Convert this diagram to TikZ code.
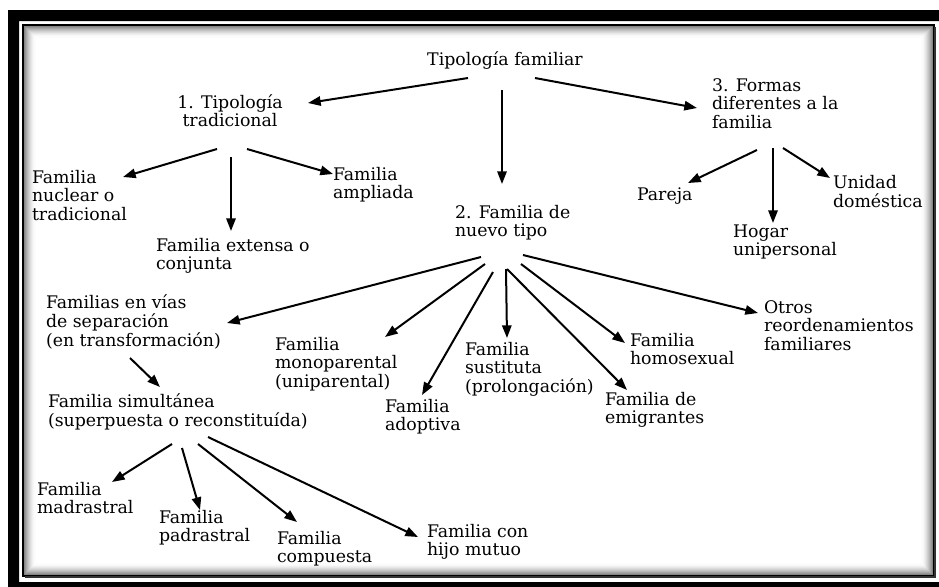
\documentclass[tikz,border=0pt]{standalone}
\usepackage{fontspec}
\setmainfont{DejaVu Serif}
\usetikzlibrary{arrows.meta}
\newcommand\ml[1]{\begin{tabular}[t]{@{}l@{}}#1\end{tabular}}
\newcommand\mc[1]{\begin{tabular}[t]{@{}c@{}}#1\end{tabular}}
\begin{document}
\begin{tikzpicture}[x=0.75pt,y=-0.75pt,
  lbl/.style={inner sep=0pt, outer sep=0pt, anchor=base west, font=\fontsize{13}{13.7}\selectfont},
  clbl/.style={lbl, anchor=base},
  arr/.style={line width=1.5pt, -{Triangle[length=9.5pt,width=7pt]}}]
\useasboundingbox (0,0) rectangle (939,586);
\fill[white] (0,0) rectangle (939,586);
% outer band
\fill[black, even odd rule] (8,10) rectangle (960,600) (19,21) rectangle (939,582);
% inner shadow
\foreach \i in {1,...,11} {
  \pgfmathsetmacro\g{55*(1-\i/12)^1.6}
  \draw[line width=0.8pt, black!\g] (24+\i,26+\i) rectangle (933-\i,575-\i);
}
% inner frame
\draw[line width=1.8pt] (23,25) rectangle (934,576);
\draw[line width=2.2pt, black!80] (935,27) -- (935,577) -- (25,577);

% nodes
\node[clbl] (tf) at (505,65) {Tipología familiar};
\node[clbl] (t1) at (230,108) {\mc{1. Tipología\\tradicional}};
\node[lbl] (t3) at (712,91) {\ml{3. Formas\\diferentes a la\\familia}};
\node[lbl] (nuc) at (32,183) {\ml{Familia\\nuclear o\\tradicional}};
\node[lbl] (amp) at (333,180) {\ml{Familia\\ampliada}};
\node[lbl] (ext) at (156,251) {\ml{Familia extensa o\\conjunta}};
\node[lbl] (t2) at (455,218) {\ml{2. Familia de\\nuevo tipo}};
\node[lbl] (par) at (637,200) {Pareja};
\node[lbl] (hog) at (733,237) {\ml{Hogar\\unipersonal}};
\node[lbl] (uni) at (833,188) {\ml{Unidad\\doméstica}};
\node[lbl] (sep) at (46,308) {\ml{Familias en vías\\de separación\\(en transformación)}};
\node[lbl] (mono) at (275,350) {\ml{Familia\\monoparental\\(uniparental)}};
\node[lbl] (sim) at (48,407) {\ml{Familia simultánea\\(superpuesta o reconstituída)}};
\node[lbl] (ado) at (385,412) {\ml{Familia\\adoptiva}};
\node[lbl] (sus) at (465,355) {\ml{Familia\\sustituta\\(prolongación)}};
\node[lbl] (hom) at (630,346) {\ml{Familia\\homosexual}};
\node[lbl] (emi) at (605,405) {\ml{Familia de\\emigrantes}};
\node[lbl] (otr) at (764,313) {\ml{Otros\\reordenamientos\\familiares}};
\node[lbl] (mad) at (37,495) {\ml{Familia\\madrastral}};
\node[lbl] (pad) at (159,523) {\ml{Familia\\padrastral}};
\node[lbl] (com) at (277,544) {\ml{Familia\\compuesta}};
\node[lbl] (hij) at (427,537) {\ml{Familia con\\hijo mutuo}};

% connectors
\draw[arr] ([shift={(-37,13)}]tf.base) -- ([shift={(78,-5)}]t1.base);
\draw[arr] ([shift={(30,13)}]tf.base) -- ([shift={(-15,17)}]t3.base west);
\draw[arr] ([shift={(-3,25)}]tf.base) -- ([shift={(47,-34)}]t2.base west);
\draw[arr] ([shift={(-13,41)}]t1.base) -- ([shift={(91,-6)}]nuc.base west);
\draw[arr] ([shift={(1,49)}]t1.base) -- ([shift={(75,-20)}]ext.base west);
\draw[arr] ([shift={(17,41)}]t1.base) -- ([shift={(0,-6)}]amp.base west);
\draw[arr] ([shift={(45,59)}]t3.base west) -- ([shift={(51,-17)}]par.base west);
\draw[arr] ([shift={(61,57)}]t3.base west) -- ([shift={(40,-14)}]hog.base west);
\draw[arr] ([shift={(71,57)}]t3.base west) -- ([shift={(-3,-10)}]uni.base west);
\draw[arr] ([shift={(26,39)}]t2.base west) -- ([shift={(181,15)}]sep.base west);
\draw[arr] ([shift={(30,46)}]t2.base west) -- ([shift={(110,-13)}]mono.base west);
\draw[arr] ([shift={(38,54)}]t2.base west) -- ([shift={(37,-17)}]ado.base west);
\draw[arr] ([shift={(51,51)}]t2.base west) -- ([shift={(42,-17)}]sus.base west);
\draw[arr] ([shift={(52,51)}]t2.base west) -- ([shift={(22,-15)}]emi.base west);
\draw[arr] ([shift={(66,46)}]t2.base west) -- ([shift={(-5,-3)}]hom.base west);
\draw[arr] ([shift={(68,37)}]t2.base west) -- ([shift={(-6,0)}]otr.base west);
\draw[arr] ([shift={(84,50)}]sep.base west) -- ([shift={(112,-20)}]sim.base west);
\draw[arr] ([shift={(124,37)}]sim.base west) -- ([shift={(75,-13)}]mad.base west);
\draw[arr] ([shift={(134,41)}]sim.base west) -- ([shift={(41,-13)}]pad.base west);
\draw[arr] ([shift={(150,37)}]sim.base west) -- ([shift={(20,-22)}]com.base west);
\draw[arr] ([shift={(160,30)}]sim.base west) -- ([shift={(-9,0)}]hij.base west);
\end{tikzpicture}
\end{document}
